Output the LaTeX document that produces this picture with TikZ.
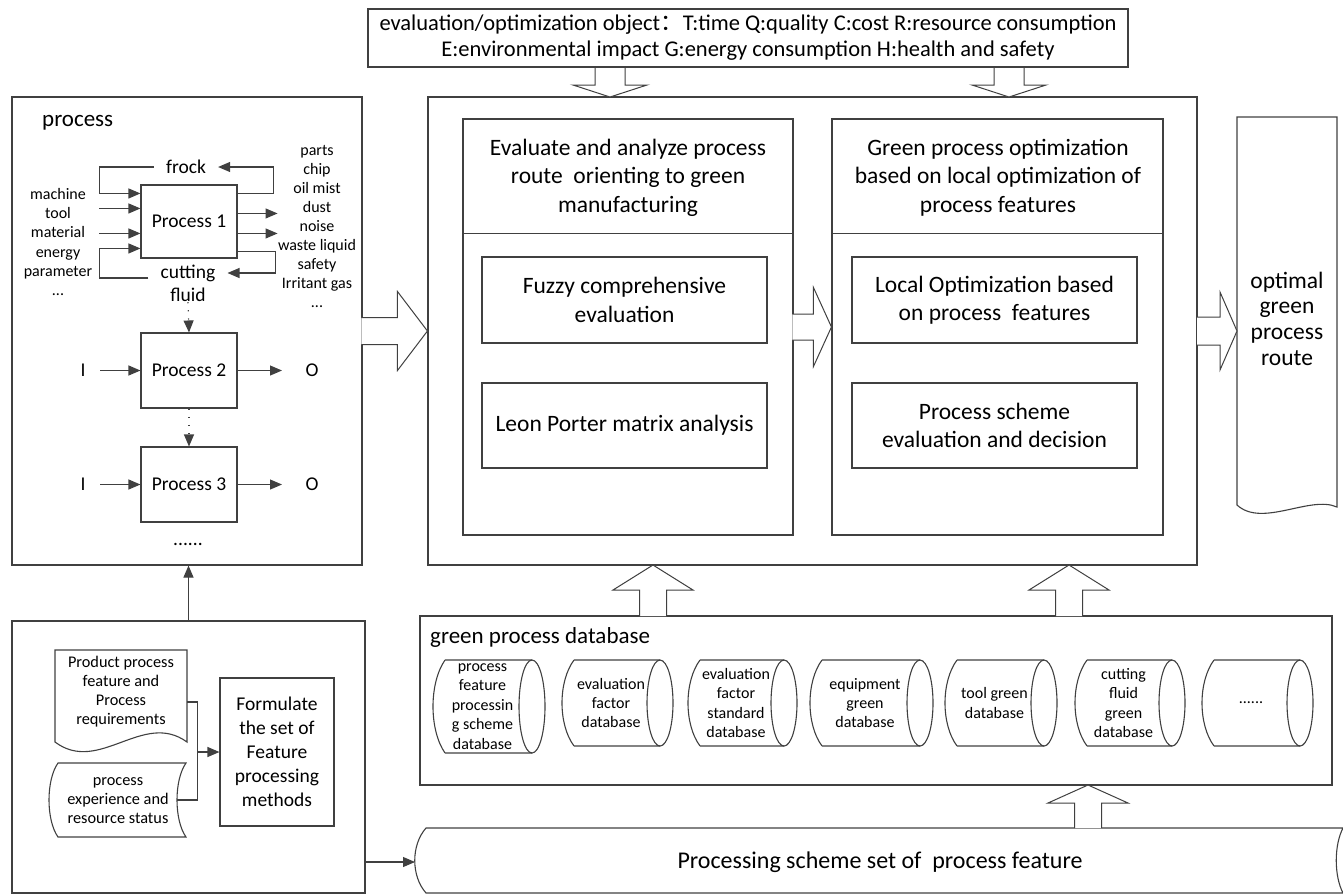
\documentclass[tikz,border=0pt]{standalone}
\usepackage{fontspec}
\setmainfont{Carlito}
\newfontfamily\cjk{Noto Sans CJK SC}
\usetikzlibrary{arrows.meta,calc}
\newcommand{\fsz}[2]{\fontsize{#1pt}{#2pt}\selectfont}
% block arrow: tip, rotation, total length, shaft half width, head half width, head length
\newcommand{\hollow}[6]{\draw[blockarrow, shift={(#1)}, rotate=#2] (-#3,#4) -- (-#6,#4) -- (-#6,#5) -- (0,0) -- (-#6,-#5) -- (-#6,-#4) -- (-#3,-#4);}
% horizontal drum: name, left x, right x, top y, bottom y, text
\newcommand{\drum}[6]{%
  \draw[line] ({#2+12},#4) -- ({#3-13},#4) ({#2+12},#5) -- ({#3-13},#5)
    ({#2+12},#4) .. controls ({#2-4},{#4+0.25*(#5-#4)}) and ({#2-4},{#5-0.25*(#5-#4)}) .. ({#2+12},#5);
  \draw[line] ({#3-13},{(#4+#5)/2}) ellipse [x radius=13pt, y radius={(#5-#4)/2*1pt}];
  \node[lbl, font=\fsz{16}{19.4}] (#1) at ({(#2+#3-13)/2},{(#4+#5)/2}) {#6};}

\begin{document}
\begin{tikzpicture}[x=1pt,y=-1pt,
  line/.style={draw=black!75, line width=1.1pt},
  box/.style={line, rectangle, inner sep=0pt, align=center},
  arr/.style={line, -{Triangle[length=12pt,width=10pt]}},
  dotarrow/.style={dash pattern=on 1.2pt off 7pt},
  blockarrow/.style={draw=black!75, line width=1pt, fill=white, line join=miter},
  lbl/.style={inner sep=0pt, align=center},
  small/.style={font=\fsz{16}{19.2}},
  mid/.style={font=\fsz{19.5}{23}},
  big/.style={font=\fsz{23.5}{28.5}},
]
\useasboundingbox (0,0) rectangle (1343,895);

% ---------- process block ----------
\node[box, minimum width=350pt, minimum height=468pt] (proc) at (187,331) {};
\node[lbl, anchor=west, font=\fsz{23}{27}] (proclbl) at (42,123) {process};
\node[box, mid, minimum width=96pt, minimum height=73pt] (p1) at (189,221.5) {Process 1};
\node[box, mid, minimum width=96pt, minimum height=75pt] (p2) at (189,370.5) {Process 2};
\node[box, mid, minimum width=96pt, minimum height=75pt] (p3) at (189,484.5) {Process 3};

\node[lbl, small] (inputs) at (58,242) {machine\\tool\\material\\energy\\parameter\\...};
\node[lbl, font=\fsz{16}{19}] (outputs) at (317,226) {parts\\chip\\oil mist\\dust\\noise\\waste liquid\\safety\\Irritant gas\\...};

\node[lbl, mid, inner xsep=12pt] (frock) at (186,167) {frock};
\node[lbl, mid, inner xsep=12pt] (cut) at (188,273) {cutting};
\node[lbl, mid] (fluid) at (188,295) {fluid};

% frock loop
\draw[arr] ([yshift=-9pt]p1.north east) -- ++(36,0) |- (frock.east);
\draw[arr] (frock.west) -| ([xshift=-41pt,yshift=-9pt]p1.north west) -- ([yshift=-9pt]p1.north west);
% inputs and outputs
\draw[arr] ([xshift=-41pt,yshift=-24pt]p1.north west) -- ([yshift=-24pt]p1.north west);
\draw[arr] ([xshift=-41pt,yshift=-49pt]p1.north west) -- ([yshift=-49pt]p1.north west);
\draw[arr] ([yshift=-29pt]p1.north east) -- ++(40,0);
\draw[arr] ([yshift=-49pt]p1.north east) -- ++(40,0);
% cutting fluid loop
\draw[arr] ([yshift=-67pt]p1.north east) -- ++(38,0) |- (cut.east);
\draw[arr] ([yshift=-5pt]cut.west) -| ([xshift=-41pt,yshift=-64pt]p1.north west) -- ([yshift=-64pt]p1.north west);

% chain of processes
\draw[arr, dotarrow] (fluid.south) -- (p2.north);
\draw[arr, dotarrow] (p2.south) -- (p3.north);
\node[lbl, mid] (i2) at (83,370.5) {I};
\node[lbl, mid] (o2) at (312,370.5) {O};
\node[lbl, mid] (i3) at (83,484.5) {I};
\node[lbl, mid] (o3) at (312,484.5) {O};
\draw[arr] ([xshift=17pt]i2.center) -- (p2.west);
\draw[arr] (p2.east) -- ([xshift=-30pt]o2.center);
\draw[arr] ([xshift=17pt]i3.center) -- (p3.west);
\draw[arr] (p3.east) -- ([xshift=-30pt]o3.center);
\node[lbl, mid] (more) at (188,544) {......};

% ---------- feature processing methods ----------
\node[box, minimum width=353pt, minimum height=272pt] (low) at (188.5,757) {};
\draw[arr] (low.north) -- (low.north |- proc.south);
\draw[line] (55,650) -- (187,650) -- (187,742) .. controls (143,710) and (99,775) .. (55,742) -- cycle;
\node[lbl, font=\fsz{16.3}{19}] (doc) at (121,692) {Product process\\feature and\\Process\\requirements};
\draw[line] (58,763) -- (186,763) .. controls (174,780) and (174,820) .. (186,837) -- (58,837) .. controls (46,820) and (46,780) .. (58,763) -- cycle;
\node[lbl, font=\fsz{16.3}{19}] (stor) at (118,801) {process\\experience and\\resource status};
\node[box, font=\fsz{19.5}{24}, minimum width=114pt, minimum height=148pt] (form) at (277,752) {Formulate\\the set of\\Feature\\processing\\methods};
\coordinate (jn) at ([xshift=-22pt]form.west);
\coordinate (docR) at (187,702);
\coordinate (storR) at (177,800);
\draw[line] (docR) -| (jn);
\draw[line] (storR) -| (jn);
\draw[arr] (jn) -- (form.west);

% ---------- processing scheme set ----------
\draw[line] (426,828) -- (1343,828) .. controls (1334,845) and (1334,876) .. (1343,893) -- (426,893) .. controls (411,876) and (411,845) .. (426,828) -- cycle;
\node[lbl, font=\fsz{24}{28}] (schemeset) at (880,862) {Processing scheme set of \ process feature};
\coordinate (bsL) at (415,862);
\draw[arr] (low.east |- bsL) -- (bsL);

% ---------- evaluation objects ----------
\node[box, font=\fsz{22.5}{26}, minimum width=760pt, minimum height=58pt] (top) at (748,38) {evaluation/optimization object{\cjk ：}T:time Q:quality C:cost R:resource consumption\\E:environmental impact G:energy consumption H:health and safety};

% ---------- evaluation and optimization ----------
\node[box, minimum width=769pt, minimum height=468pt] (main) at (812.5,331) {};
\node[box, minimum width=330pt, minimum height=416pt] (evalL) at (628,327) {};
\node[box, minimum width=331pt, minimum height=416pt] (optR) at (997.5,327) {};
\draw[line] ([yshift=-115pt]evalL.north west) -- ([yshift=-115pt]evalL.north east);
\draw[line] ([yshift=-115pt]optR.north west) -- ([yshift=-115pt]optR.north east);
\node[lbl, big] (evalhead) at (628,177.5) {Evaluate and analyze process\\route \ orienting to green\\manufacturing};
\node[lbl, big] (opthead) at (998,177.5) {Green process optimization\\based on local optimization of\\process features};
\node[box, big, minimum width=285pt, minimum height=86pt] (fuzzy) at (624.5,300) {Fuzzy comprehensive\\evaluation};
\node[box, big, minimum width=285pt, minimum height=85pt] (leon) at (624.5,425.5) {Leon Porter matrix analysis};
\node[box, big, minimum width=285pt, minimum height=86pt] (local) at (994.5,300) {Local Optimization based\\on process \ features};
\node[box, big, minimum width=285pt, minimum height=85pt] (decide) at (994.5,425.5) {Process scheme\\evaluation and decision};

% ---------- result ----------
\draw[line] (1237,117) -- (1337,117) -- (1337,507) .. controls (1310,495) and (1262,528) .. (1237,505) -- cycle;
\node[lbl, font=\fsz{23.5}{25.7}] (route) at (1287,318.5) {optimal\\green\\process\\route};
\coordinate (opt) at (1237,331);

% ---------- green process database ----------
\node[box, minimum width=912pt, minimum height=169pt] (db) at (876,700.5) {};
\node[lbl, anchor=west, font=\fsz{23}{27}] (dblbl) at (430,637) {green process database};
\drum{c1}{433}{545}{660}{753}{process\\feature\\processin\\g scheme\\database}
\drum{c2}{562}{673}{660}{746}{evaluation\\factor\\database}
\drum{c3}{688}{797}{660}{746}{evaluation\\factor\\standard\\database}
\drum{c4}{810}{933}{660}{746}{equipment\\green\\database}
\drum{c5}{945}{1057}{660}{746}{tool green\\database}
\drum{c6}{1075}{1185}{660}{746}{cutting\\fluid\\green\\database}
\drum{c7}{1202}{1313}{660}{746}{......}

% ---------- block arrows ----------
\coordinate (d1) at (610,97);
\coordinate (d2) at (1009,97);
\coordinate (u1) at (653,565);
\coordinate (u2) at (1069,565);
\coordinate (u3) at (1088,785);
\hollow{d1}{-90}{29}{15}{37}{12}
\hollow{d2}{-90}{29}{15}{37}{12}
\hollow{main.west |- proc.east}{0}{66}{13.5}{39.5}{30}
\hollow{optR.west}{0}{39}{13}{39.5}{18}
\hollow{opt}{0}{40}{14}{39}{17}
\hollow{u1}{90}{51}{13.5}{40}{25}
\hollow{u2}{90}{51}{13.5}{40}{25}
\hollow{u3}{90}{43}{13.5}{40}{18}
\end{tikzpicture}
\end{document}
